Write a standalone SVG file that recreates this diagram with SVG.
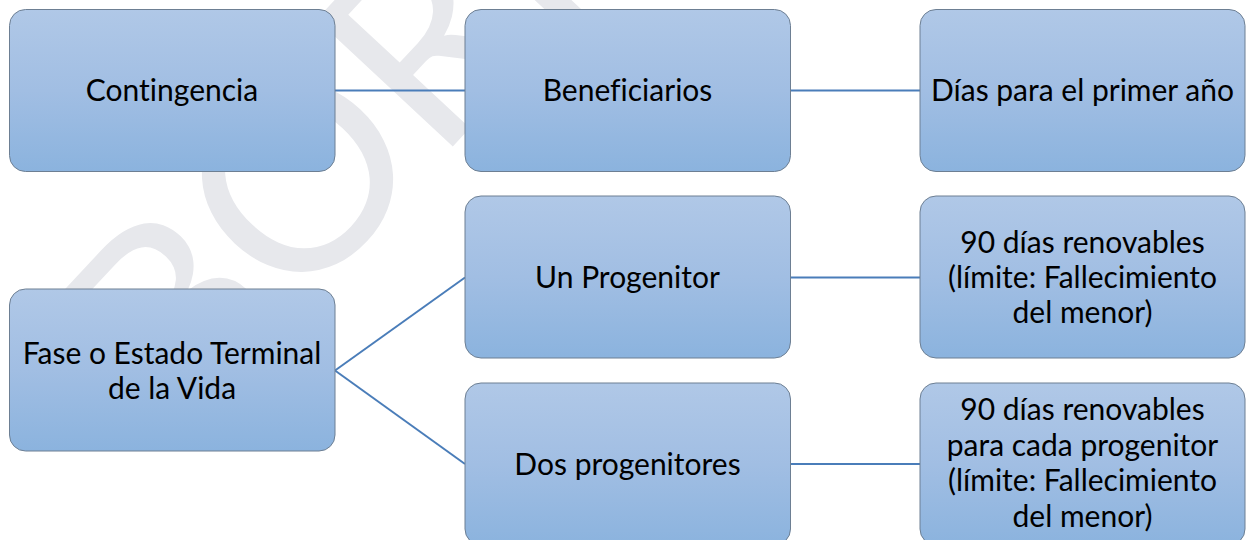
<svg xmlns="http://www.w3.org/2000/svg" width="1246" height="540" viewBox="0 0 1246 540">
<defs>
<linearGradient id="g" x1="0" y1="0" x2="0" y2="1">
<stop offset="0" stop-color="#b0c8e7"/>
<stop offset="0.5" stop-color="#a1bee3"/>
<stop offset="1" stop-color="#8bb3de"/>
</linearGradient>
<style>
.box{fill:url(#g);stroke:#6d7f93;stroke-width:1}
.t{font-family:Lato,"Liberation Sans",sans-serif;font-size:30px;fill:#000;text-anchor:middle;font-variant-ligatures:none}
.c{stroke:#4a7db9;stroke-width:2;fill:none}
.wm{font-family:Lato,"Liberation Sans",sans-serif;font-size:260px;fill:#e7e8ec}
</style>
</defs>
<rect width="1246" height="540" fill="#fff"/>
<g id="watermark"><text class="wm" transform="translate(180,439) rotate(-47)">BORRADOR</text></g>
<g id="connectors">
<line class="c" x1="335" y1="90.5" x2="465" y2="90.5"/>
<line class="c" x1="790" y1="90.5" x2="920" y2="90.5"/>
<line class="c" x1="335" y1="370.5" x2="465" y2="277.5"/>
<line class="c" x1="335" y1="370.5" x2="465" y2="464"/>
<line class="c" x1="790" y1="277.5" x2="920" y2="277.5"/>
<line class="c" x1="790" y1="464" x2="920" y2="464"/>
</g>
<g id="n1"><rect class="box" x="9.5" y="9.5" width="325.5" height="162" rx="16"/><text class="t" x="172" y="101">Contingencia</text></g>
<g id="n2"><rect class="box" x="465" y="9.5" width="325.5" height="162" rx="16"/><text class="t" x="627.5" y="101">Beneficiarios</text></g>
<g id="n3"><rect class="box" x="920" y="9.5" width="325" height="162" rx="16"/><text class="t" x="1082.5" y="101">Días para el primer año</text></g>
<g id="n4"><rect class="box" x="465" y="196" width="325.5" height="162" rx="16"/><text class="t" x="627.5" y="288">Un Progenitor</text></g>
<g id="n5"><rect class="box" x="920" y="196" width="325" height="162" rx="16"/><text class="t" x="1082.5" y="253">90 días renovables</text><text class="t" x="1082.5" y="288">(límite: Fallecimiento</text><text class="t" x="1082.5" y="323">del menor)</text></g>
<g id="n6"><rect class="box" x="9.5" y="289" width="325.5" height="162" rx="16"/><text class="t" x="172" y="364">Fase o Estado Terminal</text><text class="t" x="172" y="399">de la Vida</text></g>
<g id="n7"><rect class="box" x="465" y="383" width="325.5" height="162" rx="16"/><text class="t" x="627.5" y="475">Dos progenitores</text></g>
<g id="n8"><rect class="box" x="920" y="383" width="325" height="162" rx="16"/><text class="t" x="1082.5" y="420">90 días renovables</text><text class="t" x="1082.5" y="455.5">para cada progenitor</text><text class="t" x="1082.5" y="491">(límite: Fallecimiento</text><text class="t" x="1082.5" y="526.5">del menor)</text></g>
</svg>
